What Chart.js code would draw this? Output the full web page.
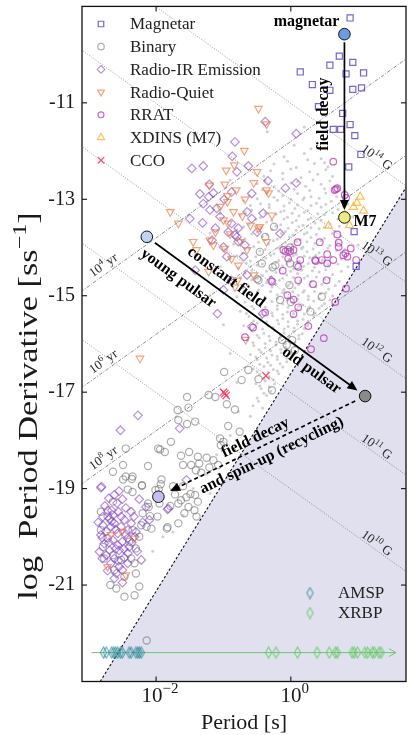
<!DOCTYPE html>
<html>
<head>
<meta charset="utf-8">
<script src="https://cdn.jsdelivr.net/npm/chart.js@4.4.0/dist/chart.umd.min.js"></script>
<style>
html,body{margin:0;padding:0;background:#ffffff;}
canvas{display:block;}
</style>
</head>
<body>
<canvas id="chart" width="417" height="735"></canvas>
<script>
// ================= DATA: log10 P [s], log10 Pdot [s/s] =================
const X_MIN = -3.1, X_MAX = 1.71, Y_MIN = -23, Y_MAX = -9;
const X_TICKS = [-2, 0];
const Y_TICKS = [-11, -13, -15, -17, -19, -21];

const MAGNETAR = [[0.88,-9.24],[0.72,-10.03],[0.58,-10.22],[0.92,-10.16],[0.82,-10.40],[1.08,-10.38],[0.14,-10.36],[0.32,-10.62],[0.58,-10.74],[0.92,-10.72],[1.05,-10.69],[0.41,-11.08],[0.77,-11.22],[0.88,-11.45],[0.63,-11.55],[0.74,-11.55],[0.95,-11.68],[1.04,-12.07],[0.86,-12.33],[0.94,-13.67],[0.97,-14.39]];

const XDINS = [[1.03,-12.95],[0.93,-13.16],[1.08,-13.24],[0.56,-13.55],[0.87,-13.54],[0.80,-13.33],[0.98,-13.08]];

const CCO = [[-0.37,-16.66],[-0.98,-17.03],[-0.96,-17.07],[-1.00,-17.00]];

const RADIO_QUIET = [[-0.48,-11.12],[-0.36,-11.44],[-0.69,-11.99],[-0.84,-12.29],[-0.96,-12.40],[-0.50,-12.43],[-0.33,-12.87],[-0.55,-12.66],[-0.98,-12.69],[-1.21,-12.71],[-0.36,-12.81],[-0.81,-12.81],[-0.94,-12.93],[-0.68,-13.00],[-1.79,-13.26],[-1.67,-13.50],[-0.94,-13.05],[-0.85,-13.26],[-1.00,-13.43],[-0.93,-13.50],[-0.60,-13.54],[-0.48,-13.60],[-1.12,-13.68],[-1.20,-13.85],[-1.45,-13.88],[-0.75,-13.88],[-0.36,-13.88],[-1.40,-14.05],[-0.98,-14.02],[-0.65,-14.05],[-0.88,-14.23],[-1.22,-14.50],[-0.78,-14.37],[-0.55,-14.57],[-0.83,-14.82],[-0.79,-14.68],[-2.24,-16.30],[-0.28,-13.33],[-0.46,-13.57],[-0.67,-15.91],[-1.05,-13.15],[-0.72,-13.35],[-1.15,-13.95],[-0.90,-13.72],[-2.67,-19.96],[-2.51,-19.89],[-2.33,-20.03],[-2.72,-20.62],[-2.45,-20.79]];

const RRAT = [[0.63,-12.22],[0.67,-12.79],[0.69,-12.77],[0.82,-12.97],[0.69,-13.73],[0.43,-13.89],[0.10,-13.89],[-0.08,-14.08],[-0.01,-14.08],[0.54,-14.14],[0.97,-14.26],[0.36,-14.26],[0.46,-14.26],[0.63,-14.26],[0.78,-14.16],[-0.11,-14.05],[0.04,-14.05],[0.71,-13.99],[0.81,-14.12],[0.84,-14.19],[0.89,-14.02],[0.37,-14.28],[0.54,-14.33],[-0.04,-14.23],[0.14,-14.26],[0.11,-14.40],[-0.12,-14.48],[-0.28,-14.71],[0.11,-14.68],[0.33,-14.76],[-0.05,-14.99],[0.82,-14.85],[0.04,-15.08],[0.66,-15.13],[-0.38,-15.35],[0.11,-15.24],[0.04,-15.38],[0.26,-15.63],[0.49,-15.88],[0.30,-16.11],[-0.56,-15.66],[-0.68,-15.86],[0.53,-14.68],[0.80,-12.91],[0.65,-12.81],[0.71,-13.90]];

const RADIO_IR = [[-0.38,-11.39],[0.08,-11.64],[-0.83,-11.81],[-0.87,-12.11],[-0.63,-12.31],[-1.30,-12.31],[-1.47,-12.36],[-0.80,-12.43],[-0.34,-12.62],[0.08,-12.66],[-0.08,-12.77],[-1.21,-12.69],[-1.35,-12.89],[-1.15,-12.87],[-0.88,-12.85],[-0.58,-12.88],[-0.99,-13.00],[-1.30,-13.09],[-1.20,-13.22],[-0.65,-13.26],[-0.41,-13.29],[-1.50,-13.40],[-1.31,-13.49],[-1.05,-13.36],[-0.88,-13.50],[-0.78,-13.60],[-0.58,-13.40],[-1.17,-13.85],[-0.83,-13.74],[-0.78,-13.88],[-0.50,-13.68],[-1.00,-13.99],[-0.68,-13.95],[-0.80,-13.78],[-0.93,-13.68],[-1.12,-13.60],[-0.95,-14.19],[-1.42,-14.47],[-1.00,-14.88],[-1.09,-15.37],[-0.58,-15.64],[-0.42,-15.37],[-0.29,-14.68],[-0.16,-13.71],[-0.70,-14.19],[-0.88,-14.68],[-0.65,-14.57],[-1.22,-12.95],[-1.10,-13.19],
[-2.27,-17.48],[-2.53,-17.79],[-1.65,-17.75],[-2.82,-18.98],[-1.55,-18.82],[-1.82,-19.41],[-2.25,-19.22],
[-2.81,-18.96],[-2.76,-19.36],[-2.62,-19.13],[-2.50,-19.22],[-2.56,-19.48],[-2.69,-19.62],[-2.79,-19.76],[-2.62,-19.72],[-2.47,-19.65],[-2.37,-19.72],[-2.74,-19.89],[-2.57,-19.93],[-2.42,-19.86],[-2.32,-20.00],[-2.64,-20.07],[-2.50,-20.10],[-2.77,-20.14],[-2.84,-20.31],[-2.69,-20.28],[-2.55,-20.28],[-2.40,-20.21],[-2.62,-20.45],[-2.47,-20.43],[-2.67,-20.55],[-2.55,-20.62],[-2.59,-20.76],[-2.50,-20.69],[-2.22,-20.48],[-2.10,-19.65],[-1.83,-19.43],[-2.15,-19.38],[-2.37,-19.48],[-2.72,-19.45],[-2.82,-19.96],[-2.67,-19.79],[-2.52,-19.79],[-2.42,-20.03],[-2.57,-20.17],[-2.74,-20.38],[-2.42,-20.34],[-2.64,-19.55],[-2.79,-19.58],
[-2.70,-19.20],[-2.58,-19.30],[-2.45,-19.40],[-2.33,-19.58],[-2.86,-19.70],[-2.66,-19.68],[-2.52,-19.58],[-2.45,-19.95],[-2.60,-19.85],[-2.80,-20.02],[-2.70,-20.12],[-2.36,-20.12],[-2.60,-20.25],[-2.48,-20.25],[-2.80,-20.45],[-2.56,-20.50],[-2.42,-20.55],[-2.72,-20.70],[-2.62,-20.86],[-2.50,-20.95],[-2.66,-19.45],[-2.30,-19.90],[-2.20,-19.70],[-2.28,-20.30],[-2.55,-19.05]];

const BINARY = [[-0.25,-13.57],[-0.43,-14.33],[-0.01,-14.33],[-0.02,-14.78],[0.00,-15.13],[0.46,-15.02],[0.29,-15.33],[-0.48,-14.68],[-0.13,-15.92],[-0.06,-16.02],[-0.99,-16.58],[-0.73,-16.75],[-0.48,-16.73],[-0.28,-16.96],[-1.54,-17.10],[-1.22,-17.06],[-1.12,-17.10],[-0.46,-14.09],[-0.23,-14.37],[-0.50,-14.65],[-0.16,-15.09],[0.02,-15.92],[0.06,-16.13],[-0.63,-16.54],[-0.04,-14.05],[-0.38,-13.78],[-0.01,-14.00],[-0.27,-14.41],[0.09,-14.37],
[-0.95,-17.25],[-0.83,-17.36],[-1.68,-17.37],[-1.52,-17.32],[-1.67,-17.58],[-1.42,-17.61],[-1.54,-17.66],[-0.93,-17.70],[-0.76,-17.82],[-1.05,-17.96],[-1.04,-18.10],[-1.78,-18.03],[-1.97,-18.17],[-1.87,-18.24],[-1.63,-18.32],[-1.51,-18.24],[-1.38,-18.34],[-2.45,-18.17],[-1.48,-18.51],[-1.36,-18.48],[-1.60,-18.51],[-2.12,-18.53],[-2.49,-18.51],[-2.64,-18.65],[-1.41,-18.62],[-1.21,-18.56],[-1.33,-18.67],[-2.45,-18.75],[-2.35,-18.75],[-1.08,-18.51],[-1.00,-18.03],[-1.94,-18.19],[-1.25,-18.36],[-1.15,-18.41],[-2.49,-18.81],[-2.36,-18.80],[-2.21,-18.93],[-1.92,-18.81],[-1.75,-18.95],[-1.72,-19.12],[-1.60,-18.95],[-1.55,-19.18],[-2.01,-19.03],[-2.11,-19.38],[-1.79,-19.36],[-1.67,-19.31],[-1.42,-19.13],[-1.40,-19.58],[-1.67,-19.72],[-1.83,-19.80],[-2.09,-19.57],[-2.14,-19.79],[-1.52,-19.38],
[-2.35,-19.07],[-2.42,-19.02],[-2.21,-18.94],[-1.93,-18.91],[-1.96,-19.01],[-2.12,-19.31],[-1.95,-19.31],[-1.63,-19.24],[-1.49,-19.11],[-1.38,-19.27],[-1.58,-19.51],[-1.43,-19.45],[-2.20,-19.51],[-2.22,-19.76],[-2.25,-20.00],[-2.07,-19.83],[-2.35,-19.86],[-2.40,-20.10],[-2.30,-20.24],[-2.37,-20.45],[-2.32,-20.55],[-2.52,-20.48],[-2.62,-20.69],[-2.47,-20.83],[-2.68,-21.00],[-2.59,-21.07],[-2.47,-21.24],[-2.32,-21.21],[-2.25,-21.03],[-1.84,-19.83],[-1.98,-19.58],[-2.64,-19.27],[-2.72,-19.58],[-2.82,-19.48],[-2.82,-19.86],[-2.79,-20.21],[-2.72,-20.03],[-2.77,-20.45],[-2.64,-20.38],[-2.30,-20.76],[-2.14,-22.15]];

const PULSARS = [[0.05,-11.88],[0.30,-11.95],[-0.10,-12.12],[0.20,-12.05],[0.45,-12.16],[-0.25,-12.27],[0.08,-12.34],[0.35,-12.26],[0.55,-12.33],[-0.40,-12.52],[-0.12,-12.46],[0.15,-12.55],[0.40,-12.48],[0.62,-12.53],[-0.50,-12.68],[-0.25,-12.74],[0.00,-12.66],[0.22,-12.73],[0.45,-12.69],[0.70,-12.75],[-0.62,-12.93],[-0.35,-12.86],[-0.12,-12.92],[0.10,-12.88],[0.30,-12.95],[0.52,-12.87],
[-0.70,-13.03],[-0.45,-13.09],[-0.20,-13.02],[-0.02,-13.07],[0.18,-13.01],[0.38,-13.08],[0.60,-13.04],[0.85,-13.10],[-0.58,-13.22],[-0.32,-13.17],[-0.10,-13.24],[0.06,-13.19],[0.25,-13.23],[0.45,-13.16],[0.70,-13.21],[-0.75,-13.33],[-0.45,-13.38],[-0.22,-13.31],[-0.05,-13.37],[0.12,-13.34],[0.30,-13.39],[0.50,-13.32],[0.92,-13.36],[-0.62,-13.52],[-0.36,-13.47],[-0.15,-13.53],[0.02,-13.48],[0.18,-13.54],[0.36,-13.49],[0.58,-13.51],[0.80,-13.46],
[-0.80,-13.63],[-0.50,-13.68],[-0.28,-13.62],[-0.08,-13.67],[0.08,-13.64],[0.24,-13.69],[0.42,-13.61],[0.65,-13.66],[-0.68,-13.82],[-0.42,-13.77],[-0.20,-13.83],[-0.02,-13.78],[0.14,-13.84],[0.30,-13.79],[0.50,-13.81],[0.75,-13.76],[-0.85,-13.93],[-0.55,-13.98],[-0.33,-13.92],[-0.14,-13.97],[0.02,-13.94],[0.18,-13.99],[0.36,-13.91],[0.58,-13.96],[1.00,-13.95],
[-0.72,-14.12],[-0.46,-14.07],[-0.25,-14.13],[-0.08,-14.08],[0.08,-14.14],[0.24,-14.09],[0.42,-14.11],[0.68,-14.06],[-0.90,-14.23],[-0.60,-14.28],[-0.37,-14.22],[-0.18,-14.27],[-0.02,-14.24],[0.13,-14.29],[0.28,-14.21],[0.47,-14.26],[0.75,-14.24],[-0.78,-14.42],[-0.50,-14.37],[-0.30,-14.43],[-0.12,-14.38],[0.04,-14.44],[0.19,-14.39],[0.35,-14.41],[0.55,-14.36],[0.85,-14.40],
[-0.68,-14.53],[-0.42,-14.58],[-0.22,-14.52],[-0.06,-14.57],[0.10,-14.54],[0.25,-14.59],[0.42,-14.51],[0.62,-14.56],[-0.85,-14.72],[-0.58,-14.67],[-0.36,-14.73],[-0.17,-14.68],[-0.01,-14.74],[0.14,-14.69],[0.30,-14.71],[0.50,-14.66],[0.72,-14.70],[-0.72,-14.83],[-0.48,-14.88],[-0.28,-14.82],[-0.10,-14.87],[0.06,-14.84],[0.20,-14.89],[0.37,-14.81],[0.56,-14.86],
[-0.80,-15.02],[-0.58,-14.97],[-0.38,-15.03],[-0.20,-14.98],[-0.04,-15.04],[0.11,-14.99],[0.26,-15.01],[0.44,-14.96],[0.62,-15.00],[-0.68,-15.13],[-0.46,-15.18],[-0.28,-15.12],[-0.12,-15.17],[0.03,-15.14],[0.18,-15.19],[0.34,-15.11],[0.50,-15.16],[-0.75,-15.32],[-0.55,-15.27],[-0.36,-15.33],[-0.20,-15.28],[-0.05,-15.34],[0.10,-15.29],[0.25,-15.31],[0.42,-15.26],
[-0.62,-15.43],[-0.44,-15.48],[-0.27,-15.42],[-0.12,-15.47],[0.03,-15.44],[0.18,-15.49],[0.34,-15.41],[-0.70,-15.62],[-0.50,-15.57],[-0.33,-15.63],[-0.18,-15.58],[-0.04,-15.64],[0.10,-15.59],[0.25,-15.61],[-0.58,-15.73],[-0.40,-15.78],[-0.24,-15.72],[-0.10,-15.77],[0.04,-15.74],[0.17,-15.79],[-0.64,-15.92],[-0.47,-15.87],[-0.31,-15.93],[-0.16,-15.88],[-0.02,-15.94],[0.12,-15.89],
[-0.55,-16.03],[-0.38,-16.08],[-0.22,-16.02],[-0.08,-16.07],[0.06,-16.04],[-0.60,-16.22],[-0.44,-16.17],[-0.28,-16.23],[-0.14,-16.18],[0.00,-16.21],[-0.50,-16.33],[-0.34,-16.38],[-0.20,-16.32],[-0.06,-16.37],[-0.56,-16.52],[-0.40,-16.47],[-0.26,-16.53],[-0.12,-16.48],[-0.46,-16.63],[-0.32,-16.68],[-0.18,-16.62],[-0.52,-16.82],[-0.38,-16.77],[-0.24,-16.83],[-0.44,-16.93],[-0.30,-16.98],[-0.50,-17.12],[-0.36,-17.07],[-0.56,-17.28],[-0.42,-17.33],[-0.60,-17.50],
[-0.78,-17.40],[-0.90,-17.90],[-1.10,-18.30],[-1.25,-18.70],[-1.45,-19.00],[-1.60,-19.55],[-1.90,-20.00],[-2.05,-20.30],[-1.75,-19.90],[-1.20,-19.10],[-0.35,-11.60],[0.20,-11.50],[-0.90,-12.60],[-1.05,-13.30],[-1.20,-13.70],[-1.05,-14.40],[-1.20,-15.00],[-1.00,-15.60],[-0.90,-16.20],[-0.80,-16.80],
[-0.05,-12.21],[0.25,-12.18],[0.50,-12.24],[-0.30,-12.41],[0.00,-12.37],[0.28,-12.43],[0.52,-12.39],[-0.38,-12.61],[-0.12,-12.58],[0.10,-12.63],[0.33,-12.60],[0.58,-12.62],[-0.42,-12.80],[-0.18,-12.83],[0.05,-12.79],[0.28,-12.82],[0.50,-12.78],[0.80,-12.81],[-0.50,-12.99],[-0.25,-12.96],[0.00,-13.00],[0.20,-12.97],[0.42,-12.98],[0.68,-12.95],
[-0.60,-13.13],[-0.32,-13.11],[-0.10,-13.14],[0.10,-13.12],[0.30,-13.13],[0.52,-13.11],[0.78,-13.14],[-0.68,-13.27],[-0.38,-13.29],[-0.15,-13.26],[0.02,-13.29],[0.20,-13.27],[0.40,-13.30],[0.62,-13.28],[-0.52,-13.42],[-0.28,-13.44],[-0.10,-13.41],[0.08,-13.44],[0.26,-13.42],[0.45,-13.43],[0.70,-13.41],
[-0.70,-13.57],[-0.45,-13.59],[-0.22,-13.56],[-0.04,-13.60],[0.12,-13.57],[0.30,-13.59],[0.50,-13.58],[0.72,-13.56],[-0.58,-13.72],[-0.35,-13.74],[-0.14,-13.71],[0.03,-13.74],[0.20,-13.72],[0.38,-13.73],[0.62,-13.71],[-0.72,-13.87],[-0.48,-13.89],[-0.26,-13.86],[-0.08,-13.89],[0.08,-13.87],[0.24,-13.88],[0.45,-13.86],[0.68,-13.89],
[-0.62,-14.02],[-0.38,-14.04],[-0.18,-14.01],[0.00,-14.04],[0.16,-14.02],[0.33,-14.03],[0.55,-14.01],[0.80,-14.04],[-0.80,-14.17],[-0.52,-14.19],[-0.30,-14.16],[-0.12,-14.19],[0.04,-14.17],[0.20,-14.18],[0.37,-14.16],[0.60,-14.19],[-0.66,-14.32],[-0.42,-14.34],[-0.22,-14.31],[-0.06,-14.34],[0.10,-14.32],[0.26,-14.33],[0.45,-14.31],[0.70,-14.34],
[-0.58,-14.47],[-0.36,-14.49],[-0.16,-14.46],[0.00,-14.49],[0.16,-14.47],[0.32,-14.48],[0.52,-14.46],[0.75,-14.49],[-0.75,-14.62],[-0.50,-14.64],[-0.30,-14.61],[-0.12,-14.64],[0.04,-14.62],[0.20,-14.63],[0.38,-14.61],[0.58,-14.64],[-0.64,-14.77],[-0.42,-14.79],[-0.22,-14.76],[-0.04,-14.79],[0.12,-14.77],[0.28,-14.78],[0.46,-14.76],[0.66,-14.79],
[-0.70,-14.92],[-0.50,-14.94],[-0.30,-14.91],[-0.12,-14.94],[0.03,-14.92],[0.18,-14.93],[0.35,-14.91],[0.52,-14.94],[-0.62,-15.07],[-0.40,-15.09],[-0.20,-15.06],[-0.05,-15.09],[0.10,-15.07],[0.26,-15.08],[0.42,-15.06],[0.58,-15.09],[-0.58,-15.22],[-0.38,-15.24],[-0.20,-15.21],[-0.04,-15.24],[0.12,-15.22],[0.28,-15.23],[0.46,-15.21],
[-0.66,-15.37],[-0.46,-15.39],[-0.28,-15.36],[-0.12,-15.39],[0.04,-15.37],[0.20,-15.38],[0.36,-15.36],[-0.55,-15.52],[-0.36,-15.54],[-0.20,-15.51],[-0.04,-15.54],[0.10,-15.52],[0.26,-15.53],[-0.62,-15.67],[-0.42,-15.69],[-0.26,-15.66],[-0.10,-15.69],[0.05,-15.67],[0.20,-15.68],
[-0.50,-15.82],[-0.32,-15.84],[-0.16,-15.81],[-0.02,-15.84],[0.12,-15.82],[-0.56,-15.97],[-0.38,-15.99],[-0.22,-15.96],[-0.08,-15.99],[0.06,-15.97],[-0.47,-16.12],[-0.30,-16.14],[-0.15,-16.11],[0.00,-16.14],[-0.52,-16.27],[-0.36,-16.29],[-0.20,-16.26],[-0.06,-16.29],[-0.46,-16.42],[-0.30,-16.44],[-0.16,-16.41],[-0.50,-16.57],[-0.34,-16.59],[-0.20,-16.56],[-0.40,-16.72],[-0.26,-16.74],[-0.46,-16.87],[-0.32,-16.89],[-0.40,-17.02],[-0.48,-17.19]];

// pulsars without measured Pdot, shown on a strip at the bottom
const NO_PDOT_LEVEL = -22.40;
const NO_PDOT_RANGE = [-2.96, 1.56];
const AMSP_P = [-2.78,-2.74,-2.66,-2.63,-2.60,-2.57,-2.53,-2.50,-2.40,-2.37,-2.30,-2.27,-2.25,-2.22];
const XRBP_P = [-0.33,-0.22,0.10,0.39,0.57,0.66,0.69,0.91,0.94,0.99,1.10,1.14,1.21,1.24,1.31,1.34];

const DEATH_LINE = [[-2.90,-23.16],[1.80,-12.55]];

// reference lines: constant B field (log10 G) and characteristic age (log10 yr)
const B_FIELD_EXP = [10, 11, 12, 13, 14];
const AGE_EXP = [4, 6, 8];

// evolutionary track markers
const TRACK_NAMES = ['magnetar', 'M7', 'young', 'old', 'recycled'];
const TRACK_P    = [0.796, 0.796, -2.138, 1.103, -1.966];
const TRACK_PDOT = [-9.576, -13.376, -13.778, -17.081, -19.169];
const ARROW_TEXT = ['field decay', 'young pulsar', 'constant field', 'old pulsar', 'field decay', 'and spin-up (recycling)'];

// ================= STYLE / DRAWING =================
const FONT = "'Liberation Serif','Times New Roman',serif";
const INK = '#1a1a1a';
const LOG_B0 = 2 * Math.log10(3.2e19);
const LOG_2YR = Math.log10(2 * 3.156e7);

const pts = a => a.map(([x, y]) => ({x, y}));
const xEnds = [X_MIN - 0.3, X_MAX + 0.3];
const bLine = b => xEnds.map(x => ({x, y: 2 * b - LOG_B0 - x}));
const ageLine = a => xEnds.map(x => ({x, y: x - LOG_2YR - a}));

function thinDiamond(color) {
  const c = document.createElement('canvas');
  c.width = 9; c.height = 13;
  const g = c.getContext('2d');
  g.strokeStyle = color; g.lineWidth = 1.2;
  g.beginPath(); g.moveTo(4.5, 1); g.lineTo(7.6, 6.5); g.lineTo(4.5, 12); g.lineTo(1.4, 6.5); g.closePath(); g.stroke();
  return c;
}
const AMSP_COLOR = 'rgba(45,135,155,0.7)';
const XRBP_COLOR = 'rgba(100,200,100,0.75)';
const AMSP_IMG = thinDiamond(AMSP_COLOR);
const XRBP_IMG = thinDiamond(XRBP_COLOR);

const SERIES = [
  {label:'Magnetar', data:MAGNETAR, style:'rect', rot:0, r:4.3, color:'rgba(90,75,200,0.85)', order:40},
  {label:'Binary', data:BINARY, style:'circle', rot:0, r:3.6, color:'rgba(105,105,105,0.55)', order:70},
  {label:'Radio-IR Emission', data:RADIO_IR, style:'rectRot', rot:0, r:4.3, color:'rgba(125,55,195,0.55)', order:60},
  {label:'Radio-Quiet', data:RADIO_QUIET, style:'triangle', rot:180, r:4.4, color:'rgba(240,115,55,0.65)', order:50},
  {label:'RRAT', data:RRAT, style:'circle', rot:0, r:3.3, color:'rgba(185,55,185,0.75)', order:45},
  {label:'XDINS (M7)', data:XDINS, style:'triangle', rot:0, r:4.6, color:'rgba(255,175,45,0.8)', order:35},
  {label:'CCO', data:CCO, style:'crossRot', rot:0, r:5.2, color:'rgba(255,45,90,0.85)', order:30}
];

const lineBase = {type:'line', showLine:true, pointRadius:0, pointHoverRadius:0, fill:false, tension:0};
const datasets = [
  Object.assign({}, lineBase, {label:'death line', data:pts(DEATH_LINE), borderColor:'#111', borderWidth:1.1, borderDash:[2.5,2], fill:'start', backgroundColor:'#e0e0ef', order:100}),
  ...B_FIELD_EXP.map(b => Object.assign({}, lineBase, {label:'B'+b, data:bLine(b), borderColor:'rgba(80,80,80,0.8)', borderWidth:0.7, borderDash:[1,1.6], order:95})),
  ...AGE_EXP.map(a => Object.assign({}, lineBase, {label:'age'+a, data:ageLine(a), borderColor:'rgba(60,60,60,0.85)', borderWidth:0.7, borderDash:[3.5,1.6,1,1.6], order:95})),
  {type:'scatter', label:'pulsars', data:pts(PULSARS), pointStyle:'circle', pointRadius:1.5, pointBackgroundColor:'rgba(160,166,166,0.5)', pointBorderColor:'rgba(0,0,0,0)', pointBorderWidth:0, order:90},
  ...SERIES.map(s => ({type:'scatter', label:s.label, data:pts(s.data), pointStyle:s.style, pointRotation:s.rot, pointRadius:s.r, pointBorderColor:s.color, pointBackgroundColor:'rgba(0,0,0,0)', pointBorderWidth:1.2, order:s.order})),
  Object.assign({}, lineBase, {label:'no Pdot', data:NO_PDOT_RANGE.map(x => ({x, y:NO_PDOT_LEVEL})), borderColor:'rgba(100,200,100,0.9)', borderWidth:1, order:25}),
  {type:'scatter', label:'AMSP', data:AMSP_P.map(x => ({x, y:NO_PDOT_LEVEL})), pointStyle:AMSP_IMG, pointRadius:4, order:20},
  {type:'scatter', label:'XRBP', data:XRBP_P.map(x => ({x, y:NO_PDOT_LEVEL})), pointStyle:XRBP_IMG, pointRadius:4, order:20}
];

function drawMarker(ctx, style, x, y, r, rot) {
  ctx.beginPath();
  if (style === 'rect') { const s = r * Math.SQRT1_2; ctx.rect(x - s, y - s, 2 * s, 2 * s); }
  else if (style === 'circle') { ctx.arc(x, y, r, 0, 2 * Math.PI); }
  else if (style === 'rectRot') { ctx.moveTo(x, y - r); ctx.lineTo(x + r, y); ctx.lineTo(x, y + r); ctx.lineTo(x - r, y); ctx.closePath(); }
  else if (style === 'triangle') {
    const a = (rot || 0) * Math.PI / 180;
    for (let k = 0; k < 3; k++) { const t = a + k * 2 * Math.PI / 3; const px = x + Math.sin(t) * r, py = y - Math.cos(t) * r; if (k) ctx.lineTo(px, py); else ctx.moveTo(px, py); }
    ctx.closePath();
  } else if (style === 'crossRot') { const s = r * Math.SQRT1_2; ctx.moveTo(x - s, y - s); ctx.lineTo(x + s, y + s); ctx.moveTo(x - s, y + s); ctx.lineTo(x + s, y - s); }
  ctx.stroke();
}

function supText(ctx, parts, cx, cy, size, ang, stretch) {
  ctx.save();
  ctx.translate(cx, cy); ctx.rotate(ang || 0);
  if (stretch) ctx.scale(stretch, 1);
  ctx.textBaseline = 'alphabetic'; ctx.textAlign = 'left';
  const fs = s => (s ? Math.round(size * 0.7) : size) + 'px ' + FONT;
  let w = 0;
  parts.forEach(([t, s]) => { ctx.font = fs(s); w += ctx.measureText(t).width; });
  let x = -w / 2;
  const base = size * 0.33;
  parts.forEach(([t, s]) => { ctx.font = fs(s); ctx.fillText(t, x, s ? base - size * 0.42 : base); x += ctx.measureText(t).width; });
  ctx.restore();
}

function rotText(ctx, text, cx, cy, ang, font) {
  ctx.save(); ctx.translate(cx, cy); ctx.rotate(ang);
  ctx.font = font; ctx.textAlign = 'center'; ctx.textBaseline = 'middle';
  ctx.fillText(text, 0, 0); ctx.restore();
}

function arrow(ctx, p0, p1, g0, g1, dashed) {
  const dx = p1[0] - p0[0], dy = p1[1] - p0[1], L = Math.hypot(dx, dy);
  const ux = dx / L, uy = dy / L;
  const sx = p0[0] + ux * g0, sy = p0[1] + uy * g0;
  const tx = p1[0] - ux * g1, ty = p1[1] - uy * g1;
  const hl = 10, hw = 4.5;
  ctx.save();
  ctx.strokeStyle = '#000'; ctx.fillStyle = '#000'; ctx.lineWidth = 1.7;
  if (dashed) ctx.setLineDash([4, 3]);
  ctx.beginPath(); ctx.moveTo(sx, sy); ctx.lineTo(tx - ux * hl * 0.8, ty - uy * hl * 0.8); ctx.stroke();
  ctx.setLineDash([]);
  ctx.beginPath(); ctx.moveTo(tx, ty);
  ctx.lineTo(tx - ux * hl - uy * hw, ty - uy * hl + ux * hw);
  ctx.lineTo(tx - ux * hl + uy * hw, ty - uy * hl - ux * hw);
  ctx.closePath(); ctx.fill();
  ctx.restore();
}

const TRACK_FILL = {magnetar:'#6c9ae6', M7:'#ecec80', young:'#c0d6f0', old:'#8a8a8a', recycled:'#c6bef2'};

const overlay = {
  id: 'overlay',
  afterDatasetsDraw(chart) {
    const ctx = chart.ctx, ca = chart.chartArea, xs = chart.scales.x, ys = chart.scales.y;
    const X = v => xs.getPixelForValue(v), Y = v => ys.getPixelForValue(v);
    const angB = Math.atan2(Y(-1) - Y(0), X(1) - X(0));
    ctx.save();
    ctx.beginPath(); ctx.rect(ca.left, ca.top, ca.right - ca.left, ca.bottom - ca.top); ctx.clip();
    ctx.fillStyle = '#2a2a2a';
    B_FIELD_EXP.forEach(b => {
      const lp = 1.28, lpd = 2 * b - LOG_B0 - lp;
      supText(ctx, [['10', false], [String(b), true], [' G', false]], X(lp), Y(lpd) - 8, 13, angB);
    });
    AGE_EXP.forEach(a => {
      const lp = -2.787, lpd = lp - LOG_2YR - a;
      supText(ctx, [['10', false], [String(a), true], [' yr', false]], X(lp), Y(lpd) - 11, 13, -angB);
    });
    const T = TRACK_P.map((p, i) => [X(p), Y(TRACK_PDOT[i])]);
    arrow(ctx, T[0], T[1], 8, 7.5, false);
    arrow(ctx, T[2], T[3], 10, 9.5, false);
    arrow(ctx, T[3], T[4], 11, 13, true);
    ctx.fillStyle = '#000';
    const bold = 'bold 16px ' + FONT;
    rotText(ctx, ARROW_TEXT[0], T[0][0] - 21, T[0][1] + 80, -Math.PI / 2, bold);
    {
      const dx = T[3][0] - T[2][0], dy = T[3][1] - T[2][1], L = Math.hypot(dx, dy);
      const ux = dx / L, uy = dy / L, nx = uy, ny = -ux, a = Math.atan2(dy, dx);
      const at = (s, n) => [T[2][0] + ux * s + nx * n, T[2][1] + uy * s + ny * n];
      let p = at(50, -15); rotText(ctx, ARROW_TEXT[1], p[0], p[1], a, bold);
      p = at(88, 14); rotText(ctx, ARROW_TEXT[2], p[0], p[1], a, bold);
      p = at(212, -11); rotText(ctx, ARROW_TEXT[3], p[0], p[1], a, bold);
    }
    {
      const dx = T[3][0] - T[4][0], dy = T[3][1] - T[4][1], L = Math.hypot(dx, dy);
      const ux = dx / L, uy = dy / L, nx = uy, ny = -ux, a = Math.atan2(dy, dx);
      const at = (s, n) => [T[4][0] + ux * s + nx * n, T[4][1] + uy * s + ny * n];
      let p = at(113, 10.5); rotText(ctx, ARROW_TEXT[4], p[0], p[1], a, bold);
      p = at(120, -12.5); rotText(ctx, ARROW_TEXT[5], p[0], p[1], a, bold);
    }
    TRACK_NAMES.forEach((n, i) => {
      ctx.beginPath(); ctx.arc(T[i][0], T[i][1], 5.8, 0, 2 * Math.PI);
      ctx.fillStyle = TRACK_FILL[n]; ctx.fill();
      ctx.lineWidth = 1; ctx.strokeStyle = '#111'; ctx.stroke();
    });
    ctx.fillStyle = '#000'; ctx.font = bold; ctx.textBaseline = 'middle';
    ctx.textAlign = 'right'; ctx.fillText('magnetar', T[0][0] - 5, T[0][1] - 12);
    ctx.textAlign = 'left'; ctx.fillText('M7', T[1][0] + 9, T[1][1] + 4);
    {
      const ex = X(NO_PDOT_RANGE[1]), ey = Y(NO_PDOT_LEVEL);
      ctx.strokeStyle = 'rgba(100,200,100,0.9)'; ctx.lineWidth = 1;
      ctx.beginPath(); ctx.moveTo(ex - 7, ey - 4); ctx.lineTo(ex, ey); ctx.lineTo(ex - 7, ey + 4); ctx.stroke();
    }
    ctx.font = '17px ' + FONT; ctx.textAlign = 'left'; ctx.textBaseline = 'middle';
    SERIES.forEach((s, i) => {
      const ly = 24 + i * 22.7;
      ctx.strokeStyle = s.color; ctx.lineWidth = 1.2;
      drawMarker(ctx, s.style, 101, ly, s.r * 0.9, s.rot);
      ctx.fillStyle = '#222'; ctx.fillText(s.label, 130, ly + 1);
    });
    ctx.drawImage(AMSP_IMG, 310 - 4.5, 593 - 6.5);
    ctx.drawImage(XRBP_IMG, 310 - 4.5, 613 - 6.5);
    ctx.fillStyle = '#222';
    ctx.fillText('AMSP', 338, 594);
    ctx.fillText('XRBP', 338, 614);
    ctx.restore();
  },
  afterDraw(chart) {
    const ctx = chart.ctx, ca = chart.chartArea, xs = chart.scales.x, ys = chart.scales.y;
    ctx.save();
    ctx.strokeStyle = '#111'; ctx.lineWidth = 1.3;
    ctx.strokeRect(ca.left, ca.top, ca.right - ca.left, ca.bottom - ca.top);
    ctx.lineWidth = 1.1;
    const seg = (a, b, c, d) => { ctx.beginPath(); ctx.moveTo(a, b); ctx.lineTo(c, d); ctx.stroke(); };
    Y_TICKS.forEach(v => { const y = ys.getPixelForValue(v); seg(ca.left, y, ca.left + 5, y); seg(ca.right, y, ca.right - 5, y); });
    X_TICKS.forEach(v => { const x = xs.getPixelForValue(v); seg(x, ca.bottom, x, ca.bottom - 5); seg(x, ca.top, x, ca.top + 5); });
    ctx.fillStyle = INK;
    X_TICKS.forEach(v => {
      supText(ctx, [['10', false], [v < 0 ? '\u2212' + Math.abs(v) : String(v), true]], xs.getPixelForValue(v) + 4, 695, 21, 0);
    });
    supText(ctx, [['Period [s]', false]], (ca.left + ca.right) / 2, 722, 22, 0);
    supText(ctx, [['log  Period Derivative [ss', false], ['\u22121', true], [']', false]], 28, 406, 27, -Math.PI / 2, 1.27);
    ctx.restore();
  }
};

new Chart(document.getElementById('chart'), {
  type: 'scatter',
  data: {datasets},
  options: {
    responsive: false,
    devicePixelRatio: 1,
    animation: false,
    events: [],
    layout: {padding: {top: 6, right: 11, left: 0, bottom: 0}},
    plugins: {legend: {display: false}, tooltip: {enabled: false}},
    scales: {
      x: {
        type: 'linear', min: X_MIN, max: X_MAX,
        grid: {display: false, drawTicks: false}, border: {display: false},
        ticks: {display: false},
        afterBuildTicks: s => { s.ticks = X_TICKS.map(v => ({value: v})); },
        afterFit: s => { s.height = 53.5; s.paddingLeft = 0; s.paddingRight = 0; }
      },
      y: {
        type: 'linear', min: Y_MIN, max: Y_MAX,
        grid: {display: false, drawTicks: false}, border: {display: false},
        ticks: {font: {family: FONT, size: 20}, color: INK, padding: 7},
        afterBuildTicks: s => { s.ticks = Y_TICKS.map(v => ({value: v})); },
        afterFit: s => { s.width = 82; s.paddingTop = 0; s.paddingBottom = 0; }
      }
    }
  },
  plugins: [overlay]
});
</script>
</body>
</html>
